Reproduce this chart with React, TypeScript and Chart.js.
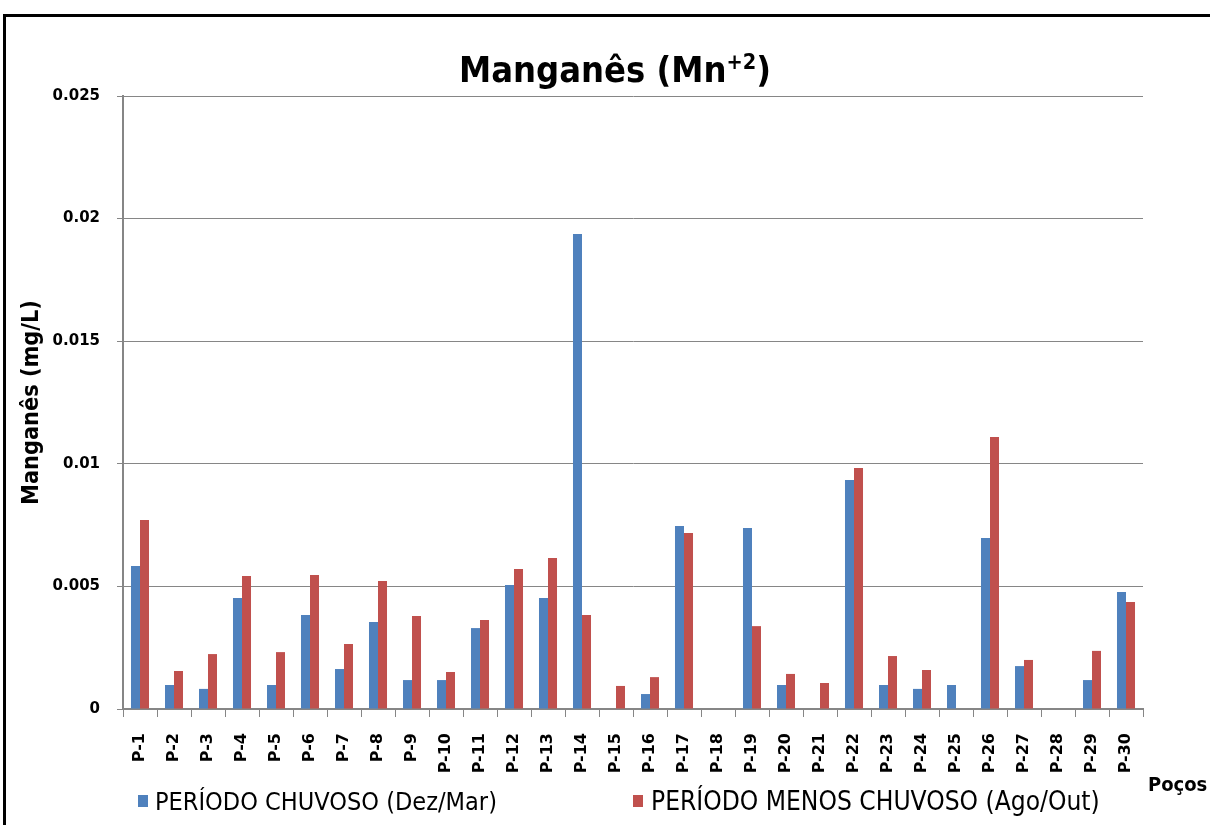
import React, { useEffect, useRef } from "react";
import { Chart, registerables } from "chart.js";

Chart.register(...registerables);

const categories = [
  "P-1", "P-2", "P-3", "P-4", "P-5", "P-6", "P-7", "P-8", "P-9", "P-10",
  "P-11", "P-12", "P-13", "P-14", "P-15", "P-16", "P-17", "P-18", "P-19", "P-20",
  "P-21", "P-22", "P-23", "P-24", "P-25", "P-26", "P-27", "P-28", "P-29", "P-30",
];

const chuvoso = [
  0.00583, 0.00098, 0.00082, 0.00453, 0.00098, 0.00383, 0.00163, 0.00355, 0.00118, 0.00118,
  0.0033, 0.00506, 0.00453, 0.01937, 0, 0.00061, 0.00746, 0, 0.00738, 0.00098,
  0, 0.00934, 0.00098, 0.00082, 0.00098, 0.00697, 0.00175, 0, 0.00118, 0.00477,
];

const menosChuvoso = [
  0.00771, 0.00155, 0.00224, 0.00542, 0.00232, 0.00546, 0.00265, 0.00522, 0.00379, 0.00151,
  0.00363, 0.00571, 0.00616, 0.00383, 0.00094, 0.0013, 0.00718, 0, 0.00338, 0.00143,
  0.00106, 0.00983, 0.00216, 0.00159, 0, 0.01109, 0.002, 0, 0.00237, 0.00436,
];

const seriesLabels = ["PERÍODO CHUVOSO (Dez/Mar)", "PERÍODO MENOS CHUVOSO (Ago/Out)"];
const seriesColors = ["#4F81BD", "#C0504D"];
const titleParts = ["Manganês (Mn", "+2", ")"];
const yAxisTitle = "Manganês (mg/L)";
const xAxisTitle = "Poços";
const yMin = 0;
const yMax = 0.025;
const yStep = 0.005;

const NARROW = '"Liberation Sans Narrow", "DejaVu Sans Condensed", "Roboto Condensed", "Liberation Sans", sans-serif';
const WIDE = '"DejaVu Sans", "Liberation Sans", sans-serif';

function measure(ctx: CanvasRenderingContext2D, text: string, font: string) {
  ctx.font = font;
  return ctx.measureText(text).width;
}

function fitSize(ctx: CanvasRenderingContext2D, text: string, weight: string, family: string, target: number) {
  const w = measure(ctx, text, `${weight} 100px ${family}`);
  return (100 * target) / w;
}

const decorPlugin = {
  id: "decor",
  beforeDraw(chart: any) {
    const ctx = chart.ctx as CanvasRenderingContext2D;
    ctx.save();
    ctx.fillStyle = "#ffffff";
    ctx.fillRect(0, 0, chart.width, chart.height);
    ctx.restore();
  },
  afterDraw(chart: any) {
    const ctx = chart.ctx as CanvasRenderingContext2D;
    ctx.save();
    // frame
    ctx.fillStyle = "#000000";
    ctx.fillRect(3, 14, chart.width, 3);
    ctx.fillRect(3, 14, 3, chart.height);

    // title
    const w1 = measure(ctx, titleParts[0], `bold 100px ${NARROW}`);
    const w2 = measure(ctx, titleParts[1], `bold 60px ${NARROW}`);
    const w3 = measure(ctx, titleParts[2], `bold 100px ${NARROW}`);
    const s = (100 * 312) / (w1 + w2 + w3);
    let x = 459;
    const base = 82;
    ctx.fillStyle = "#000000";
    ctx.textBaseline = "alphabetic";
    ctx.textAlign = "left";
    ctx.font = `bold ${s}px ${NARROW}`;
    ctx.fillText(titleParts[0], x, base);
    x += ctx.measureText(titleParts[0]).width;
    ctx.font = `bold ${s * 0.6}px ${NARROW}`;
    ctx.fillText(titleParts[1], x, base - s * 0.36);
    x += ctx.measureText(titleParts[1]).width;
    ctx.font = `bold ${s}px ${NARROW}`;
    ctx.fillText(titleParts[2], x, base);

    // legend
    const items = [
      { sx: 138, tx: 155, tw: 342 },
      { sx: 633, tx: 651, tw: 449 },
    ];
    chart.data.datasets.forEach((ds: any, i: number) => {
      const it = items[i];
      ctx.fillStyle = ds.backgroundColor;
      ctx.fillRect(it.sx, 795, 10, 12);
      const fs = fitSize(ctx, ds.label, "normal", NARROW, it.tw);
      ctx.font = `normal ${fs}px ${NARROW}`;
      ctx.fillStyle = "#000000";
      ctx.textBaseline = "alphabetic";
      ctx.fillText(ds.label, it.tx, 810);
    });

    // x axis title
    ctx.font = `bold 20px ${NARROW}`;
    ctx.fillStyle = "#000000";
    ctx.fillText(xAxisTitle, 1148, 791);
    ctx.restore();
  },
};

export default function App() {
  const ref = useRef<HTMLCanvasElement | null>(null);

  useEffect(() => {
    if (!ref.current) return;
    const mctx = document.createElement("canvas").getContext("2d") as CanvasRenderingContext2D;
    const yTitleSize = fitSize(mctx, yAxisTitle, "bold", NARROW, 205);
    const chart = new Chart(ref.current, {
      type: "bar",
      data: {
        labels: categories,
        datasets: [
          { label: seriesLabels[0], data: chuvoso, backgroundColor: seriesColors[0], barPercentage: 1, categoryPercentage: 0.53 },
          { label: seriesLabels[1], data: menosChuvoso, backgroundColor: seriesColors[1], barPercentage: 1, categoryPercentage: 0.53 },
        ],
      },
      options: {
        animation: false,
        responsive: true,
        maintainAspectRatio: false,
        layout: { padding: { left: 0, top: 96, right: 67, bottom: 0 } },
        plugins: {
          legend: { display: false },
          title: { display: false },
          tooltip: { enabled: false },
        },
        scales: {
          x: {
            grid: { display: true, drawOnChartArea: false, drawTicks: true, tickLength: 8, color: "#868686", lineWidth: 1 },
            border: { display: true, color: "#868686", width: 2 },
            ticks: {
              autoSkip: false,
              maxRotation: 90,
              minRotation: 90,
              padding: 16,
              color: "#000000",
              font: { family: WIDE, size: 16, weight: "bold" },
            },
            afterFit(scale: any) {
              scale.height = 116;
            },
          },
          y: {
            min: yMin,
            max: yMax,
            grid: { color: "#868686", lineWidth: 1, tickLength: 6, drawTicks: true },
            border: { display: true, color: "#868686", width: 2 },
            ticks: {
              stepSize: yStep,
              padding: 17,
              color: "#000000",
              font: { family: WIDE, size: 15, weight: "bold" },
              callback: (v: any) => String(parseFloat(Number(v).toFixed(3))),
            },
            title: {
              display: true,
              text: yAxisTitle,
              color: "#000000",
              font: { family: NARROW, size: yTitleSize, weight: "bold", lineHeight: 1.2 },
              padding: { top: 32 - yTitleSize * 0.6, bottom: 0 },
            },
            afterFit(scale: any) {
              scale.width = 123;
            },
          },
        },
      },
      plugins: [decorPlugin],
    });
    return () => chart.destroy();
  }, []);

  return (
    <div style={{ position: "absolute", left: 0, top: 0, width: 1210, height: 825 }}>
      <canvas ref={ref} />
    </div>
  );
}
